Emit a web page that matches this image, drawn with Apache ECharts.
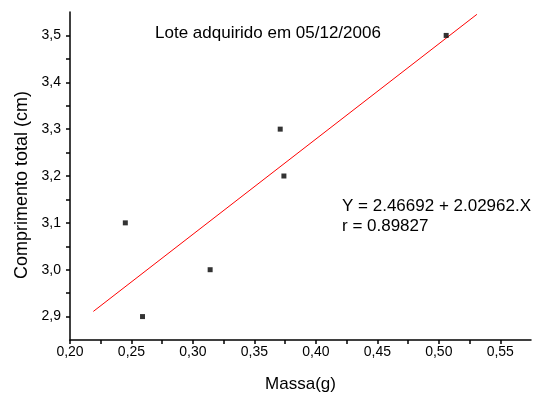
<!DOCTYPE html>
<html>
<head>
<meta charset="utf-8">
<script src="https://cdn.jsdelivr.net/npm/echarts@6/dist/echarts.min.js"></script>
<style>
  html, body { margin: 0; padding: 0; background: #fff; }
  #chart { width: 536px; height: 394px; }
</style>
</head>
<body>
<div id="chart"></div>
<script>
// measured points (massa g, comprimento cm)
const massa = [0.245, 0.259, 0.314, 0.371, 0.374, 0.506];
const comprimento = [3.1, 2.9, 3.0, 3.3, 3.2, 3.5];

// fitted line endpoints as drawn in the figure
const fitX = [0.219, 0.531];
const fitY = [2.911, 3.545];

const titleText = 'Lote adquirido em 05/12/2006';
const eqText = 'Y = 2.46692 + 2.02962.X';
const rText = 'r = 0.89827';

const font = 'Liberation Sans, Arial, sans-serif';

const chart = echarts.init(document.getElementById('chart'));

const isStep = (v, step) => Math.abs(v / step - Math.round(v / step)) < 1e-6;

const option = {
  animation: false,
  grid: { left: 70, right: 5, top: 12, bottom: 54, outerBoundsMode: 'none' },
  xAxis: {
    type: 'value',
    min: 0.2,
    max: 0.575,
    interval: 0.025,
    name: 'Massa(g)',
    nameLocation: 'middle',
    nameGap: 36,
    nameTextStyle: { fontFamily: font, fontSize: 17, color: '#000' },
    axisLine: { show: true, onZero: false, lineStyle: { color: '#000', width: 1.5 } },
    axisTick: { show: true, length: 4, lineStyle: { color: '#000', width: 1.5 } },
    axisLabel: {
      margin: 5,
      fontFamily: font,
      fontSize: 14,
      color: '#000',
      showMaxLabel: false,
      formatter: v => isStep(v, 0.05) ? v.toFixed(2).replace('.', ',') : ''
    },
    splitLine: { show: false }
  },
  yAxis: {
    type: 'value',
    min: 2.85,
    max: 3.55,
    interval: 0.05,
    name: 'Comprimento total (cm)',
    nameLocation: 'middle',
    nameGap: 39,
    nameTextStyle: { fontFamily: font, fontSize: 18, color: '#000', padding: [0, 18, 0, 0] },
    axisLine: { show: true, onZero: false, lineStyle: { color: '#000', width: 1.5 } },
    axisTick: { show: true, length: 4, lineStyle: { color: '#000', width: 1.5 } },
    axisLabel: {
      margin: 9,
      fontFamily: font,
      fontSize: 14,
      color: '#000',
      showMaxLabel: false,
      showMinLabel: false,
      formatter: v => isStep(v, 0.1) ? v.toFixed(1).replace('.', ',') : ''
    },
    splitLine: { show: false }
  },
  series: [
    {
      type: 'line',
      data: fitX.map((x, i) => [x, fitY[i]]),
      symbol: 'none',
      lineStyle: { color: '#ff0000', width: 1 },
      z: 1
    },
    {
      type: 'scatter',
      data: massa.map((x, i) => [x, comprimento[i]]),
      symbol: 'rect',
      symbolSize: 5,
      itemStyle: { color: '#000' },
      z: 2
    }
  ],
  graphic: [
    {
      type: 'text', left: 155, top: 25,
      style: { text: titleText, fontFamily: font, fontSize: 17, fill: '#000' }
    },
    {
      type: 'text', left: 342, top: 198,
      style: { text: eqText, fontFamily: font, fontSize: 17, fill: '#000' }
    },
    {
      type: 'text', left: 342, top: 218,
      style: { text: rText, fontFamily: font, fontSize: 17, fill: '#000' }
    }
  ]
};

chart.setOption(option);
</script>
</body>
</html>
